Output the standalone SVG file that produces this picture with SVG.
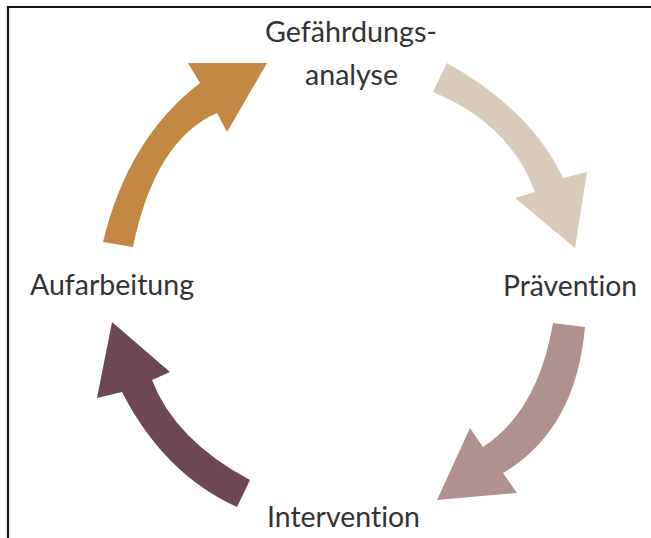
<svg xmlns="http://www.w3.org/2000/svg" width="651" height="538" viewBox="0 0 651 538">
<style>
.lbl{font-family:Lato,"Open Sans","Liberation Sans",sans-serif;font-size:29px;fill:#333333;font-variant-ligatures:none;font-feature-settings:"liga" 0,"clig" 0;}
</style>
<rect x="0" y="0" width="651" height="538" fill="#ffffff"/>
<path d="M8,538 V7 H651" fill="none" stroke="#151515" stroke-width="2.2"/>
<g id="connectors">
<path id="arrow-aufarbeitung-gefaehrdung" fill="#C38944" d="M103,242 Q128,138 200,83 L188,63 L267,63 L227,132 L217,113 Q155,140 133,247 Z"/>
<path id="arrow-gefaehrdung-praevention" fill="#D9CBBA" d="M447,63 Q531,110 563,178 L587,172 L575,248 L515,198 L535,192 Q510,124 433,92 Z"/>
<path id="arrow-praevention-intervention" fill="#B19190" d="M553,323 L585,327 Q576,430 503,473 L517,493 L437,500 L470,428 L483,447 Q538,411 553,323 Z"/>
<path id="arrow-intervention-aufarbeitung" fill="#6D4853" d="M250,480 L237,507 Q164,474 122,392 L97,398 L112,322 L170,372 L152,380 Q175,440 250,480 Z"/>
</g>
<g id="node-gefaehrdungsanalyse">
<text class="lbl" x="265" y="42" textLength="172" lengthAdjust="spacingAndGlyphs">Gefährdungs-</text>
<text class="lbl" x="305" y="85" textLength="93" lengthAdjust="spacingAndGlyphs">analyse</text>
</g>
<g id="node-praevention">
<text class="lbl" x="503" y="296" textLength="134" lengthAdjust="spacingAndGlyphs">Prävention</text>
</g>
<g id="node-intervention">
<text class="lbl" x="267" y="527" textLength="153" lengthAdjust="spacingAndGlyphs">Intervention</text>
</g>
<g id="node-aufarbeitung">
<text class="lbl" x="30" y="295" textLength="164" lengthAdjust="spacingAndGlyphs">Aufarbeitung</text>
</g>
</svg>
